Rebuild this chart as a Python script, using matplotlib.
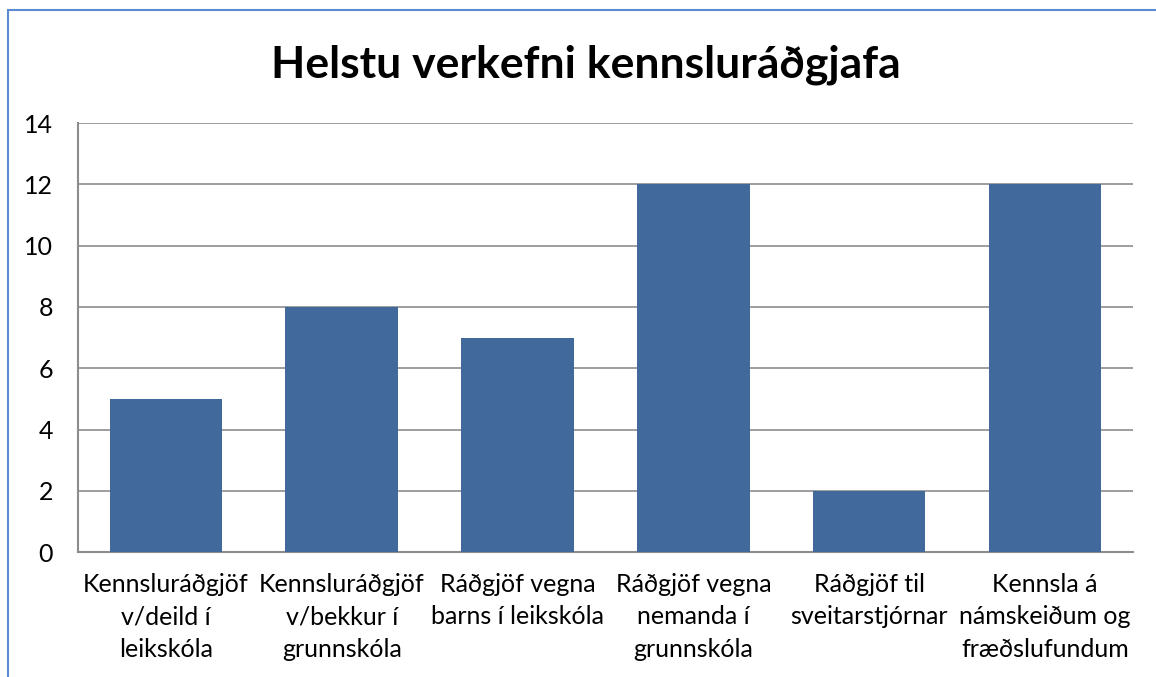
import matplotlib.pyplot as plt
from matplotlib.patches import Rectangle

plt.rcParams['font.family'] = ['Lato', 'DejaVu Sans']

categories = ['Kennsluráðgjöf\nv/deild í\nleikskóla',
              'Kennsluráðgjöf\nv/bekkur í\ngrunnskóla',
              'Ráðgjöf vegna\nbarns í leikskóla',
              'Ráðgjöf vegna\nnemanda í\ngrunnskóla',
              'Ráðgjöf til\nsveitarstjórnar',
              'Kennsla á\nnámskeiðum og\nfræðslufundum']
values = [5, 8, 7, 12, 2, 12]
yticks = [0, 2, 4, 6, 8, 10, 12, 14]

fig = plt.figure(figsize=(11.56, 6.77), dpi=100)
ax = fig.add_axes([0.0675, 0.1846, 0.9125, 0.6334])

x = range(len(categories))
ax.bar(x, values, width=0.64, color='#41699c', zorder=3)
ax.set_xlim(-0.5, len(categories) - 0.5)
ax.set_ylim(0, 14)
ax.set_yticks(yticks)
ax.set_xticks(list(x))
ax.set_xticklabels(categories, fontsize=18, linespacing=1.5)
ax.tick_params(axis='y', labelsize=18, length=0, pad=18)
ax.tick_params(axis='x', length=0, pad=15)
ax.grid(axis='y', color='#8c8c8c', linewidth=1.2, zorder=0)

for s in ['top', 'right']:
    ax.spines[s].set_visible(False)
for s in ['left', 'bottom']:
    ax.spines[s].set_color('#8c8c8c')
    ax.spines[s].set_linewidth(1.5)

fig.text(0.507, 0.905, 'Helstu verkefni kennsluráðgjafa', ha='center', va='center',
         fontsize=32, fontweight='bold')

# blue outer frame
fig.patches.append(Rectangle((8 / 1156, -0.05), 1.2, 1 - 10 / 677 + 0.05,
                             transform=fig.transFigure, fill=False,
                             edgecolor='#5b8bd0', linewidth=1.5))

fig.savefig('out.png', dpi=100)
